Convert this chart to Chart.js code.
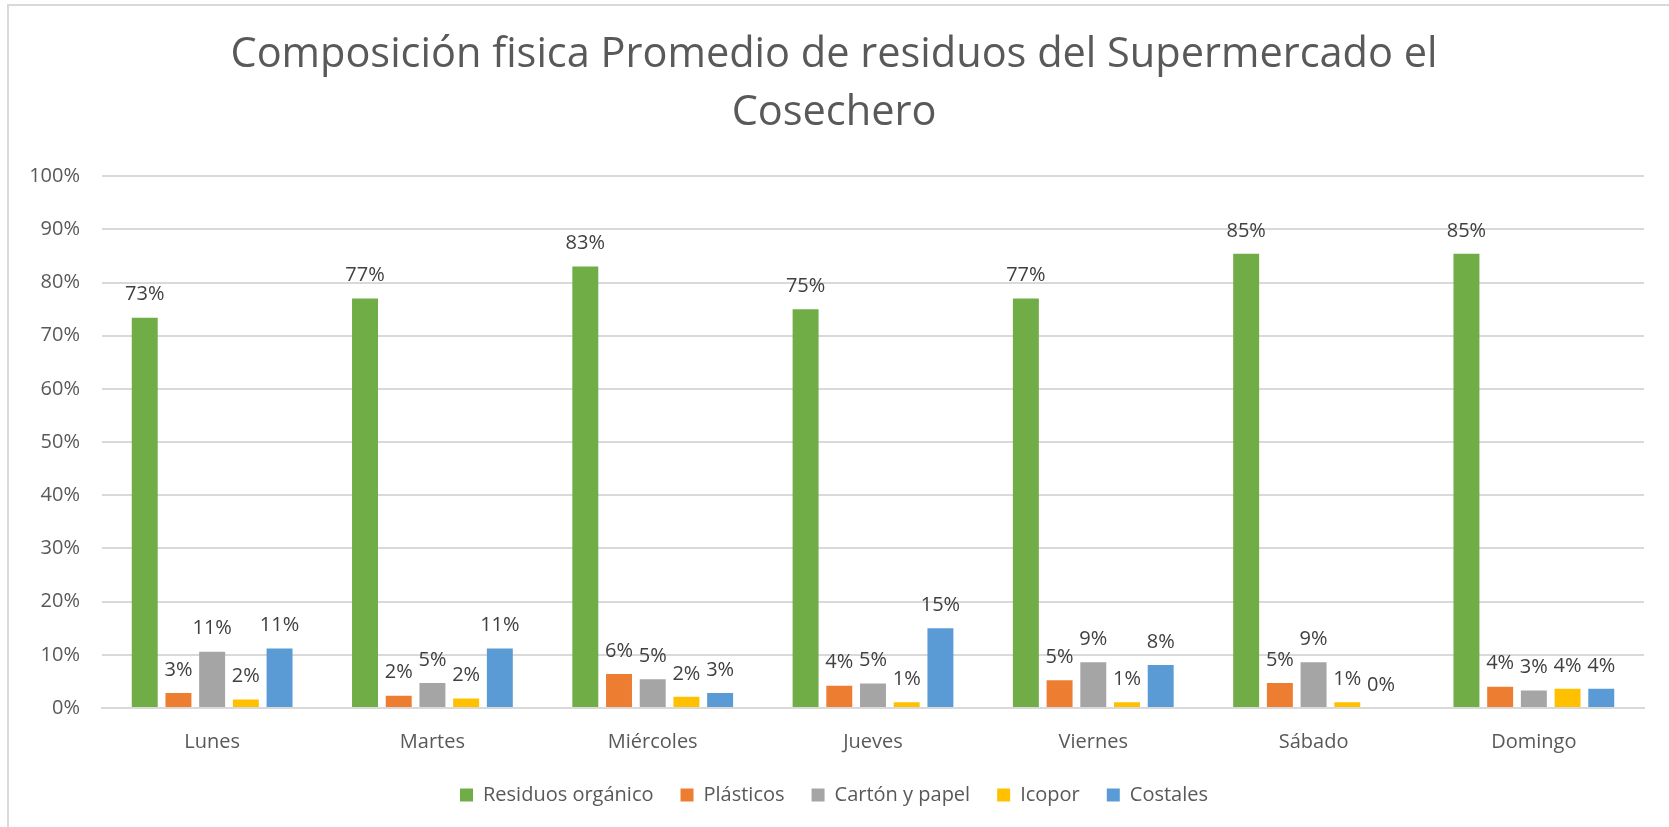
<!DOCTYPE html>
<html>
<head>
<meta charset="utf-8">
<script src="https://cdn.jsdelivr.net/npm/chart.js@4"></script>
<style>
  html, body { margin: 0; padding: 0; background: #fff; }
  canvas { display: block; }
</style>
</head>
<body>
<canvas id="wasteChart" width="1669" height="827"></canvas>
<script>
const days = ['Lunes', 'Martes', 'Miércoles', 'Jueves', 'Viernes', 'Sábado', 'Domingo'];
const organicos = [73.4, 77.0, 83.0, 75.0, 77.0, 85.4, 85.4];
const plasticos = [2.8, 2.3, 6.4, 4.2, 5.2, 4.7, 4.0];
const carton = [10.6, 4.7, 5.4, 4.6, 8.6, 8.6, 3.3];
const icopor = [1.6, 1.8, 2.1, 1.1, 1.1, 1.1, 3.6];
const costales = [11.2, 11.2, 2.8, 15.0, 8.1, 0, 3.6];
const yTicks = [0, 10, 20, 30, 40, 50, 60, 70, 80, 90, 100];

const textColor = '#595959';
const gridColor = '#d9d9d9';
const fontFamily = '"Open Sans", Lato, sans-serif';

// marco gris del gráfico (solo borde izquierdo y superior visibles)
const frame = {
    id: 'frame',
    beforeDraw(chart) {
        const ctx = chart.ctx;
        ctx.save();
        ctx.fillStyle = '#fff';
        ctx.fillRect(0, 0, chart.width, chart.height);
        ctx.strokeStyle = gridColor;
        ctx.lineWidth = 2;
        ctx.beginPath();
        ctx.moveTo(8, chart.height);
        ctx.lineTo(8, 5);
        ctx.lineTo(chart.width, 5);
        ctx.stroke();
        ctx.restore();
    }
};

// etiquetas de porcentaje encima de cada barra
const barLabels = {
    id: 'barLabels',
    afterDatasetsDraw(chart) {
        const ctx = chart.ctx;
        ctx.save();
        ctx.font = '20px ' + fontFamily;
        ctx.fillStyle = '#404040';
        ctx.textAlign = 'center';
        ctx.textBaseline = 'middle';
        chart.data.datasets.forEach((ds, i) => {
            chart.getDatasetMeta(i).data.forEach((bar, j) => {
                ctx.fillText(Math.round(ds.data[j]) + '%', bar.x, bar.y - 23);
            });
        });
        ctx.restore();
    }
};

const ctx = document.getElementById('wasteChart').getContext('2d');

new Chart(ctx, {
    type: 'bar',
    data: {
        labels: days,
        datasets: [
            { label: 'Residuos orgánico', data: organicos, backgroundColor: '#70ad47' },
            { label: 'Plásticos', data: plasticos, backgroundColor: '#ed7d31' },
            { label: 'Cartón y papel', data: carton, backgroundColor: '#a5a5a5' },
            { label: 'Icopor', data: icopor, backgroundColor: '#ffc000' },
            { label: 'Costales', data: costales, backgroundColor: '#5b9bd5' }
        ]
    },
    options: {
        responsive: false,
        animation: false,
        categoryPercentage: 0.765,
        barPercentage: 0.77,
        layout: {
            padding: { left: 24, right: 25, top: 10, bottom: 12 }
        },
        plugins: {
            title: {
                display: true,
                text: ['Composición fisica Promedio de residuos del Supermercado el', 'Cosechero'],
                color: textColor,
                font: { family: fontFamily, size: 41.5, weight: 'normal', lineHeight: 1.4 },
                padding: { top: 16, bottom: 34 }
            },
            legend: {
                position: 'bottom',
                labels: {
                    color: textColor,
                    boxWidth: 13,
                    boxHeight: 13,
                    padding: 27,
                    font: { family: fontFamily, size: 20 }
                }
            },
            tooltip: { enabled: false }
        },
        scales: {
            x: {
                afterFit: scale => {
                    scale.height -= 18;
                },
                grid: { display: false, drawTicks: false },
                border: { color: gridColor, width: 2 },
                ticks: {
                    color: textColor,
                    padding: 22,
                    font: { family: fontFamily, size: 20 }
                }
            },
            y: {
                min: 0,
                max: 100,
                afterBuildTicks: scale => {
                    scale.ticks = yTicks.map(v => ({ value: v }));
                },
                afterFit: scale => {
                    scale.width = 78;
                },
                grid: { color: gridColor, lineWidth: 2, drawTicks: false },
                border: { display: false },
                ticks: {
                    color: textColor,
                    padding: 22,
                    font: { family: fontFamily, size: 20 },
                    callback: v => v + '%'
                }
            }
        }
    },
    plugins: [frame, barLabels]
});
</script>
</body>
</html>
